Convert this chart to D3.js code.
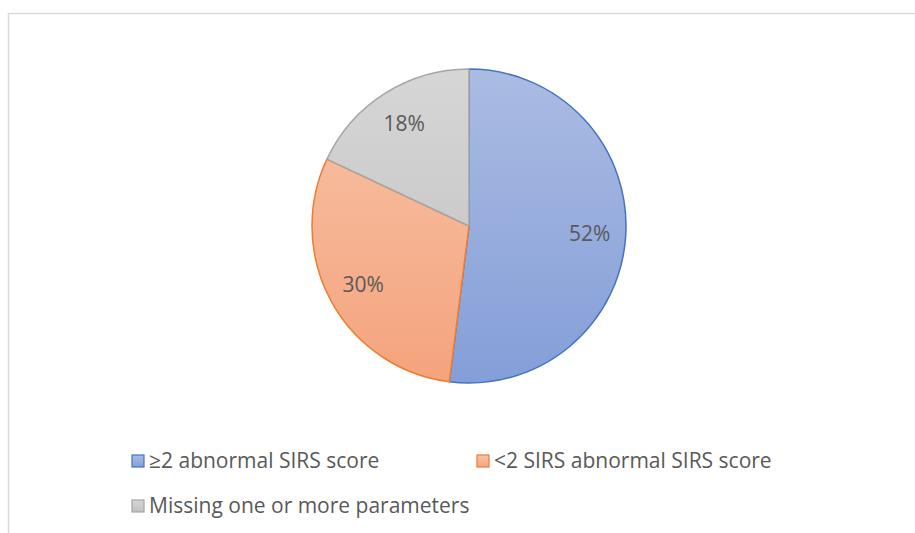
<!DOCTYPE html>
<html lang="en">
<head>
<meta charset="UTF-8">
<title>SIRS score pie</title>
<script src="https://d3js.org/d3.v7.min.js"></script>
<style>
  body { margin: 0; background: #fff; }
  text { font-family: "Open Sans", Lato, sans-serif; fill: #595959; }
</style>
</head>
<body>
<svg id="chart" width="915" height="533"></svg>
<script>
// data
const categories = ['≥2 abnormal SIRS score', '<2 SIRS abnormal SIRS score', 'Missing one or more parameters'];
const values = [52, 30, 18];
const labels = ['52%', '30%', '18%'];

const fills = [['#abbce3', '#849ed8'], ['#f8c4a8', '#f4a37d'], ['#d6d6d6', '#c0c0c0']];
const strokes = ['#4472c4', '#ed7d31', '#a5a5a5'];

const svg = d3.select('#chart');
const cx = 469, cy = 226, r = 157;

// chart area border
svg.append('rect')
    .attr('x', 8.5).attr('y', 13.5)
    .attr('width', 930).attr('height', 540)
    .attr('fill', 'none')
    .attr('stroke', '#d9d9d9')
    .attr('stroke-width', 1.5);

const defs = svg.append('defs');
fills.forEach((f, i) => {
    const g = defs.append('linearGradient')
        .attr('id', 'grad' + i)
        .attr('gradientUnits', 'userSpaceOnUse')
        .attr('x1', 0).attr('y1', -r).attr('x2', 0).attr('y2', r);
    g.append('stop').attr('offset', '0%').attr('stop-color', f[0]);
    g.append('stop').attr('offset', '100%').attr('stop-color', f[1]);

    const lg = defs.append('linearGradient')
        .attr('id', 'lgrad' + i)
        .attr('x1', 0).attr('y1', 0).attr('x2', 0).attr('y2', 1);
    lg.append('stop').attr('offset', '0%').attr('stop-color', f[0]);
    lg.append('stop').attr('offset', '100%').attr('stop-color', f[1]);
});

const pie = d3.pie().sort(null).value(d => d);
const arcs = pie(values);
const arc = d3.arc().innerRadius(0).outerRadius(r);
const labelArc = d3.arc().innerRadius(r * 0.77).outerRadius(r * 0.77);

const g = svg.append('g').attr('transform', `translate(${cx},${cy})`);

g.selectAll('path')
    .data(arcs)
    .enter()
    .append('path')
    .attr('d', arc)
    .attr('fill', (d, i) => `url(#grad${i})`)
    .attr('stroke', (d, i) => strokes[i])
    .attr('stroke-width', 1.5)
    .attr('stroke-linejoin', 'round');

g.selectAll('text.lbl')
    .data(arcs)
    .enter()
    .append('text')
    .attr('class', 'lbl')
    .attr('transform', d => `translate(${labelArc.centroid(d)})`)
    .attr('text-anchor', 'middle')
    .attr('dy', '0.35em')
    .style('font-size', '21px')
    .text((d, i) => labels[i]);

// legend
const legendPos = [[132, 461], [477, 461], [132, 506]];
const leg = svg.selectAll('g.legend')
    .data(categories)
    .enter()
    .append('g')
    .attr('class', 'legend')
    .attr('transform', (d, i) => `translate(${legendPos[i][0]},${legendPos[i][1]})`);

leg.append('rect')
    .attr('x', 0).attr('y', -6)
    .attr('width', 12).attr('height', 12)
    .attr('fill', (d, i) => `url(#lgrad${i})`)
    .attr('stroke', (d, i) => strokes[i])
    .attr('stroke-width', 1.2);

leg.append('text')
    .attr('x', 17)
    .attr('dy', '0.35em')
    .style('font-size', '21px')
    .text(d => d);
</script>
</body>
</html>
